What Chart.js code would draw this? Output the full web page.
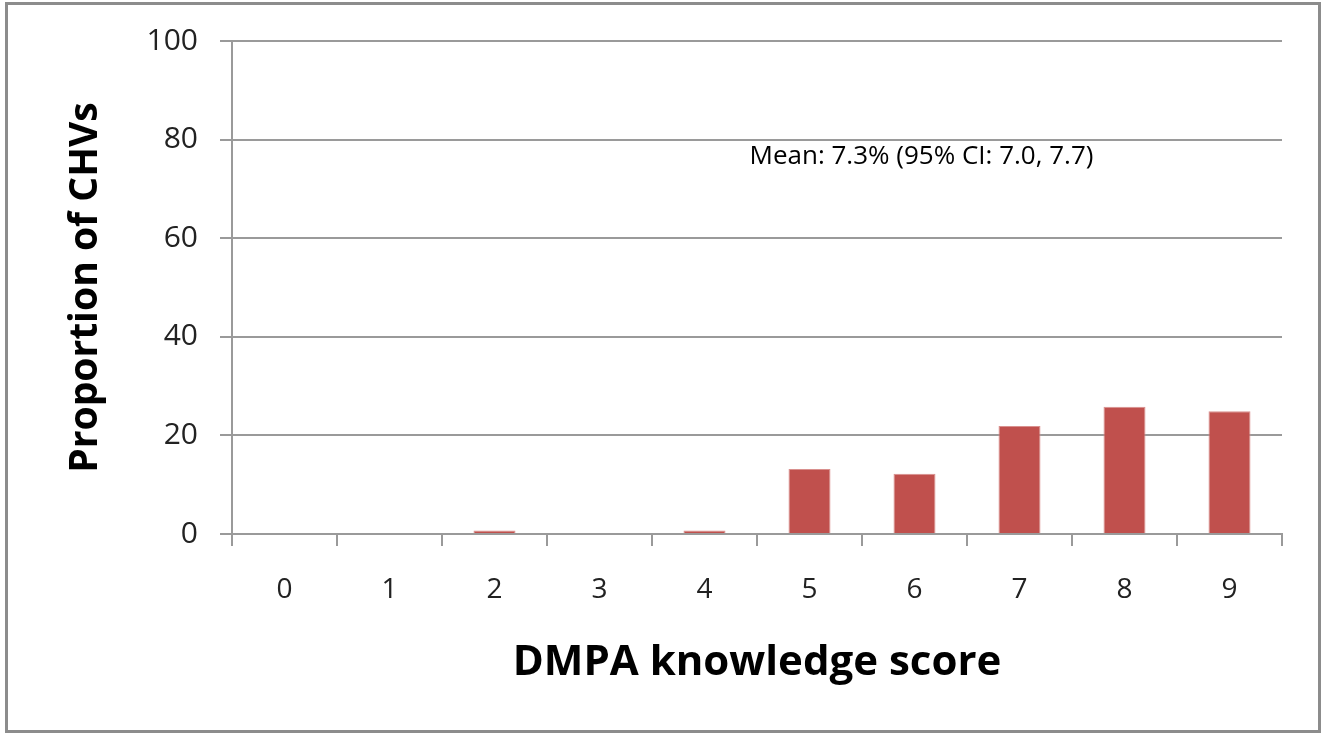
<!DOCTYPE html>
<html>
<head>
<meta charset="utf-8">
<script src="https://cdn.jsdelivr.net/npm/chart.js@4.4.1/dist/chart.umd.min.js"></script>
<style>
  html, body { margin: 0; padding: 0; background: #fff; }
  #wrap { position: relative; width: 1321px; height: 733px; }
  #frame { position: absolute; left: 5px; top: 2px; width: 1310px; height: 725px; border: 3px solid #8c8c8c; box-sizing: content-box; pointer-events: none; }
</style>
</head>
<body>
<div id="wrap">
  <canvas id="c" width="1321" height="733"></canvas>
  <div id="frame"></div>
</div>
<script>
const categories = ['0', '1', '2', '3', '4', '5', '6', '7', '8', '9'];
const proportions = [0, 0, 0.7, 0, 0.7, 13.2, 12.2, 21.9, 25.8, 24.9];
const yTicks = [0, 20, 40, 60, 80, 100];
const note = 'Mean: 7.3% (95% CI: 7.0, 7.7)';

const font = "'Open Sans', 'Liberation Sans', sans-serif";

// draws the mean text inside the plot
const notePlugin = {
  id: 'note',
  afterDatasetsDraw(chart) {
    const { ctx, scales } = chart;
    const x = scales.x.getPixelForValue(4) + 45;
    const y = scales.y.getPixelForValue(76.5);
    ctx.save();
    ctx.font = '26px ' + font;
    ctx.fillStyle = '#000';
    ctx.textBaseline = 'middle';
    ctx.fillText(note, x, y);
    ctx.restore();
  }
};

new Chart(document.getElementById('c'), {
  type: 'bar',
  data: {
    labels: categories,
    datasets: [{ data: proportions, backgroundColor: '#c0504d', borderColor: '#d9908e', borderWidth: 1, barPercentage: 0.4, categoryPercentage: 1 }]
  },
  options: {
    responsive: false,
    animation: false,
    events: [],
    layout: { padding: { left: 62, right: 39, top: 41, bottom: 45 } },
    plugins: { legend: { display: false }, tooltip: { enabled: false } },
    scales: {
      x: {
        offset: true,
        grid: { offset: true, drawOnChartArea: false, drawTicks: true, tickLength: 12, color: '#9a9a9a', lineWidth: 2 },
        border: { color: '#9a9a9a', width: 2 },
        ticks: { font: { family: font, size: 28 }, color: '#222', padding: 27 },
        title: { display: true, text: 'DMPA knowledge score', font: { family: font, size: 42, weight: 'bold' }, color: '#000', padding: { top: 10, bottom: 0 } },
        afterFit(s) { s.height = 733 - 45 - 534; }
      },
      y: {
        min: 0, max: 100,
        afterBuildTicks(s) { s.ticks = yTicks.map(v => ({ value: v })); },
        grid: { color: '#9a9a9a', lineWidth: 2, tickLength: 12 },
        border: { color: '#9a9a9a', width: 2 },
        ticks: { font: { family: font, size: 30 }, color: '#222', padding: 22 },
        title: { display: true, text: 'Proportion of CHVs', font: { family: font, size: 39, weight: 'bold' }, color: '#000', padding: { top: 0, bottom: 0 } },
        afterFit(s) { s.width = 232 - 62; }
      }
    }
  },
  plugins: [notePlugin]
});
</script>
</body>
</html>
